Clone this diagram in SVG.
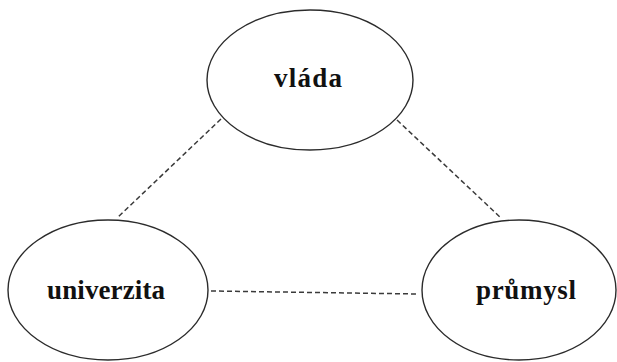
<svg xmlns="http://www.w3.org/2000/svg" width="617" height="362" viewBox="0 0 617 362">
  <style>
    .node ellipse { fill: #ffffff; stroke: #2b2b2b; stroke-width: 1.4; }
    .node text { font-family: "Liberation Serif", "Times New Roman", serif; font-weight: bold; font-size: 27px; fill: #111111; text-anchor: middle; }
    .links line { stroke: #3a3a3a; stroke-width: 1.5; stroke-dasharray: 5 3; }
  </style>
  <rect width="617" height="362" fill="#ffffff"/>
  <g class="links">
    <line x1="221" y1="119" x2="117" y2="218"/>
    <line x1="397" y1="120" x2="501" y2="218"/>
    <line x1="211" y1="291" x2="418" y2="294"/>
  </g>
  <g id="vlada" class="node">
    <ellipse cx="310" cy="80" rx="103" ry="70"/>
    <text x="308" y="87" textLength="68" lengthAdjust="spacing">vláda</text>
  </g>
  <g id="univerzita" class="node">
    <ellipse cx="108" cy="290" rx="100" ry="70"/>
    <text x="106" y="299" textLength="118" lengthAdjust="spacing">univerzita</text>
  </g>
  <g id="prumysl" class="node">
    <ellipse cx="519" cy="290" rx="97" ry="70"/>
    <text x="526" y="299" textLength="100" lengthAdjust="spacing">průmysl</text>
  </g>
</svg>
